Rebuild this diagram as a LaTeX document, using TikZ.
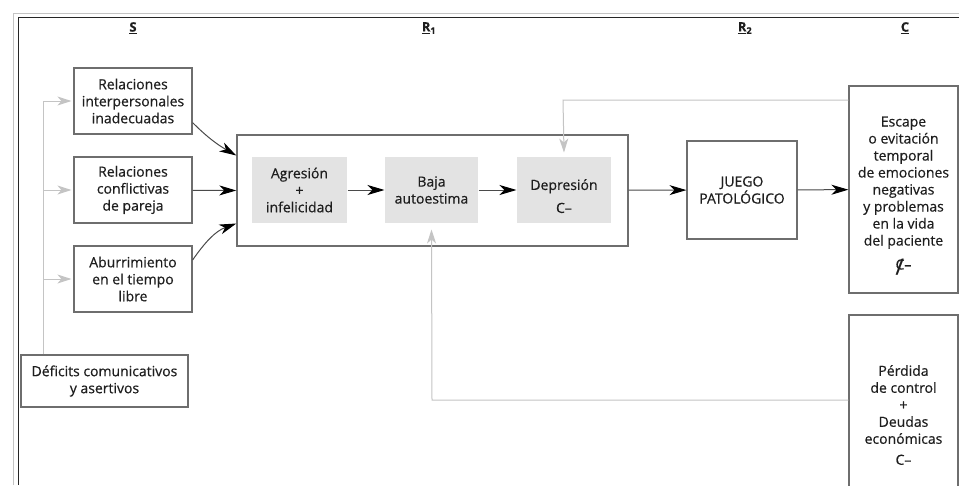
\documentclass[tikz,border=0pt]{standalone}
\usepackage{fontspec}
\setmainfont{Open Sans}[FakeBold=0.5]
\usetikzlibrary{arrows.meta,positioning}

\definecolor{ink}{HTML}{1E1E1E}
\definecolor{linegray}{HTML}{4A4A4A}
\definecolor{framegray}{HTML}{6E6E6E}
\definecolor{fillgray}{HTML}{E3E3E3}
\definecolor{fbgray}{HTML}{C4C4C4}

\def\causewidth{118pt}
\newcommand{\cneg}{C–}
\newcommand{\cnegcross}{\makebox[0pt][l]{\kern0pt\raisebox{-5pt}{\fontsize{22}{22}\selectfont /}}C–}

\begin{document}
\begin{tikzpicture}[x=1pt,y=-1pt,line width=1pt,
  font=\fontsize{14}{17}\selectfont]
\tikzstyle{every node}=[text=ink,inner sep=0pt,align=center]
\tikzstyle{cause}=[draw=framegray,line width=1.2pt,minimum width=\causewidth,minimum height=66pt]
\tikzstyle{state}=[fill=fillgray,minimum height=66pt]
\tikzstyle{result}=[draw=framegray,line width=1.2pt,minimum width=109pt]
\tikzstyle{link}=[draw=linegray,-{Stealth[length=17pt,width=10pt,inset=5pt,color=black]}]
\tikzstyle{feedback}=[draw=fbgray,-{Stealth[length=14pt,width=9pt,inset=4pt]}]
\tikzstyle{heading}=[font=\bfseries\fontsize{13}{15}\selectfont]

\clip (0,0) rectangle (959,485);
\fill[white] (0,0) rectangle (959,485);

% Draw the frame
\draw[draw=fbgray,line width=0.8pt] (13.5,485) -- (13.5,13) -- (959,13);
\draw[draw=black!85,line width=1.5pt] (18.5,485) -- (18.5,17.5) -- (959,17.5);

% Draw the column headings
\node[heading] (hS) at (133,28) {\underline{S}};
\node[heading] (hR1) at (429,28) {\underline{R}\textsubscript{1}};
\node[heading] (hR2) at (745,28) {\underline{R}\textsubscript{2}};
\node[heading] (hC) at (905,28) {\underline{C}};

% Draw the stimulus boxes
\node[cause] (interp) at (133,101) {Relaciones\\interpersonales\\inadecuadas};
\node[cause] (conflict) at (133,190) {Relaciones\\conflictivas\\de pareja};
\node[cause] (aburr) at (133,279) {Aburrimiento\\en el tiempo\\libre};
\node[cause,minimum width=167pt,minimum height=52pt] (deficits) at (104.5,381)
  {Déficits comunicativos\\y asertivos};

% Draw the first response block
\node[draw=framegray,line width=1.4pt,minimum width=391pt,minimum height=111pt] (r1) at (432.5,190.5) {};
\node[state,minimum width=95pt] (agresion) at (299.5,190) {Agresión\\+\\infelicidad};
\node[state,minimum width=93pt] (baja) at (431.5,190) {Baja\\autoestima};
\node[state,minimum width=94pt] (depresion) at (564,190) {\mbox{}\\[6pt]Depresión\\[6pt]\cneg};

% Draw the second response and the consequences
\node[cause,minimum width=110pt,minimum height=98pt] (juego) at (742,190) {JUEGO\\PATOLÓGICO};
\node[result,minimum height=207pt] (escape) at (903.5,189.5)
  {\mbox{}\\[5pt]Escape\\o evitación\\temporal\\de emociones\\negativas\\y problemas\\en la vida\\del paciente\\[7pt]\cnegcross};
\node[result,minimum height=200pt] (perdida) at (903.5,415)
  {Pérdida\\de control\\+\\Deudas\\económicas\\[4pt]\cneg};

% Connect the stimuli with the first response
\coordinate (trunk) at (43,101);
\draw[draw=fbgray] (trunk |- deficits.north) -- (trunk);
\foreach \src in {interp,conflict,aburr}
  \draw[feedback] (trunk |- \src.west) -- ([xshift=-2pt]\src.west);

\draw[link] ([yshift=12pt]interp.south east) to[out=-45,in=150] ([yshift=35pt]r1.west);
\draw[link] (conflict) -- (r1.west);
\draw[link] ([yshift=19pt]aburr.east) to[out=55,in=200] ([yshift=-33pt]r1.west);

% Connect the chain
\draw[link] (agresion) -- (baja);
\draw[link] (baja) -- (depresion);
\draw[link] (r1) -- (juego);
\draw[link] (juego) -- (escape);

% Feedback from the consequences
\coordinate (fbtop) at (563,100);
\draw[feedback] (escape.west |- fbtop) -- (fbtop) -- ([yshift=4pt]depresion.north);
\coordinate (fbbot) at (432,400);
\draw[feedback] (perdida.west |- fbbot) -- (fbbot) -- ([yshift=-6pt]baja.south);
\end{tikzpicture}
\end{document}
